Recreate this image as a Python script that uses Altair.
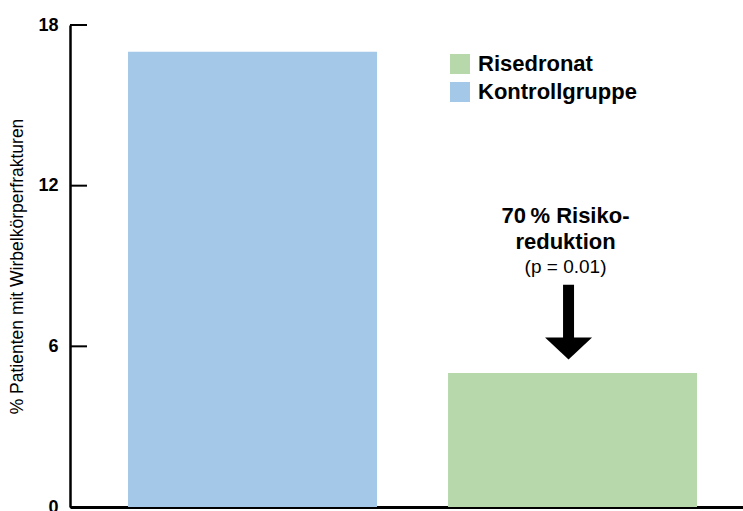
import altair as alt
import pandas as pd

# Data
groups = ["Kontrollgruppe", "Risedronat"]
values = [17.0, 5.0]
legend_order = ["Risedronat", "Kontrollgruppe"]
bar_colors = ["#b6d8aa", "#a3c8e8"]
y_ticks = [0, 6, 12, 18]

# Annotation (placed above the Risedronat bar, in data units)
ann_bold_lines = ["70\u2009% Risiko-", "reduktion"]
ann_bold_y = [10.62, 9.62]
ann_note = ["(p = 0.01)"]
ann_note_y = [8.74]
arrow_shaft = [8.3, 6.2]
arrow_head_y = [5.92]

FONT = "Liberation Sans"
Y_TITLE = "% Patienten mit Wirbelkörperfrakturen"

bars_df = pd.DataFrame({"group": groups, "value": values})
ticks_df = pd.DataFrame({"t": y_ticks})
bold_df = pd.DataFrame({"group": ["Risedronat"] * 2, "text": ann_bold_lines, "y": ann_bold_y})
note_df = pd.DataFrame({"group": ["Risedronat"], "text": ann_note, "y": ann_note_y})
shaft_df = pd.DataFrame({"group": ["Risedronat"], "y": [arrow_shaft[0]], "y2": [arrow_shaft[1]]})
head_df = pd.DataFrame({"group": ["Risedronat"], "y": arrow_head_y})

xscale = alt.Scale(domain=groups, paddingInner=0.222, paddingOuter=0.1625, align=0.558)
yscale = alt.Scale(domain=[0, 18], nice=False)


def xe():
    return alt.X("group:N", scale=xscale, title=None)


def ye(field):
    return alt.Y(field, scale=yscale, axis=alt.Axis(values=y_ticks), title=Y_TITLE)


bars = alt.Chart(bars_df).mark_bar().encode(
    x=xe(),
    y=ye("value:Q"),
    color=alt.Color("group:N", scale=alt.Scale(domain=legend_order, range=bar_colors),
                    legend=alt.Legend(title=None, orient="none", legendX=379, legendY=28,
                                      symbolType="square", symbolSize=400, symbolStrokeWidth=0,
                                      labelFont=FONT, labelFontSize=22, labelFontWeight="bold",
                                      labelColor="black", labelOffset=7, rowPadding=6,
                                      padding=0)),
)

tick_rules = alt.Chart(ticks_df).mark_rule(color="black", strokeWidth=2).encode(
    y=ye("t:Q"),
    x=alt.value(0),
    x2=alt.value(17),
)

bold_text = alt.Chart(bold_df).mark_text(
    font=FONT, fontSize=22, fontWeight="bold", color="black", dx=-7, baseline="alphabetic"
).encode(x=xe(), y=ye("y:Q"), text="text:N")

note_text = alt.Chart(note_df).mark_text(
    font=FONT, fontSize=19, color="black", dx=-7, baseline="alphabetic"
).encode(x=xe(), y=ye("y:Q"), text="text:N")

shaft = alt.Chart(shaft_df).mark_rule(color="black", strokeWidth=11, strokeCap="butt", xOffset=-4).encode(
    x=xe(), y=ye("y:Q"), y2="y2:Q")

head = alt.Chart(head_df).mark_point(
    shape="M-1,-0.47L1,-0.47L0,0.47Z", size=2209, filled=True, color="black", opacity=1, xOffset=-4
).encode(x=xe(), y=ye("y:Q"))

chart = alt.layer(bars, tick_rules, bold_text, note_text, shaft, head).properties(
    width=673, height=482,
    padding={"left": 70, "top": 25, "right": 0, "bottom": 4},
    autosize=alt.AutoSizeParams(type="none"),
    background="white",
).configure_view(stroke=None).configure_axisX(
    labels=False, ticks=False, domainColor="black", domainWidth=3, grid=False, title=None
).configure_axisY(
    titleFont=FONT, titleFontSize=17.5, titleFontWeight="normal",
    titleColor="black", titlePadding=11,
    labelFont=FONT, labelFontSize=18, labelFontWeight="bold",
    labelColor="black", labelPadding=12, tickSize=0,
    domainColor="black", domainWidth=2.5, grid=False
)

chart.save("out.html", embed_options={"renderer": "svg", "actions": False})
